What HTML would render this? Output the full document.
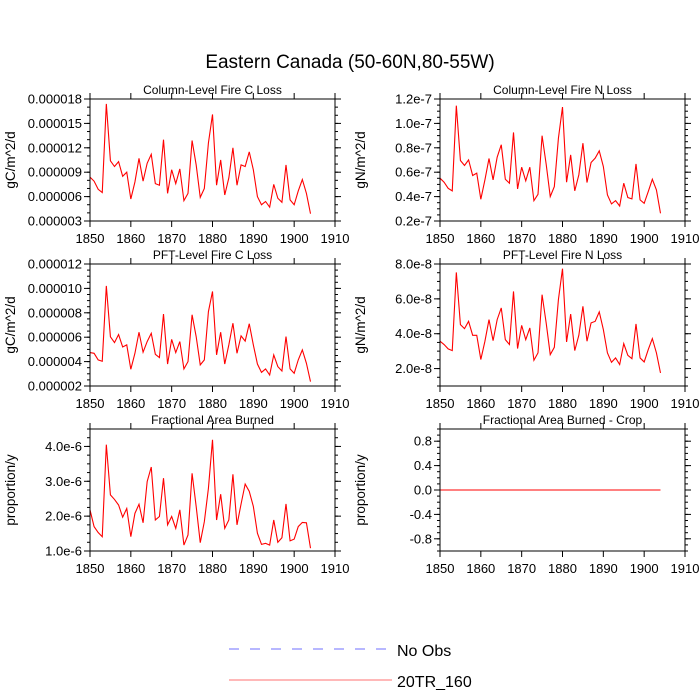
<!DOCTYPE html>
<html><head><meta charset="utf-8"><style>
body{margin:0;background:#fff;}
svg{display:block;font-family:"Liberation Sans",sans-serif;}
</style></head><body>
<svg id="chart" width="700" height="700" viewBox="0 0 700 700">
<text x="350" y="68" text-anchor="middle" font-size="19">Eastern Canada (50-60N,80-55W)</text>
<g>
<line x1="229" y1="649" x2="386" y2="649" stroke="#6f6fff" stroke-width="1" stroke-dasharray="10,11"/>
<text x="397" y="656" font-size="16">No Obs</text>
<line x1="229" y1="680" x2="392" y2="680" stroke="#ff7070" stroke-width="1"/>
<text x="397" y="687" font-size="16">20TR_160</text>
</g>
</svg>
<script>
const years = [];
for (let y = 1850; y <= 1904; y++) years.push(y);
const xTicks = [1850,1860,1870,1880,1890,1900,1910];
const colC = [8.4,7.9,6.9,6.5,17.4,10.4,9.7,10.3,8.5,9.0,5.7,7.8,10.7,7.9,10.1,11.2,7.6,7.4,13.0,6.4,9.3,7.6,9.4,5.5,6.4,12.9,9.9,5.9,7.0,12.6,16.1,7.4,10.5,6.2,8.3,12.0,7.4,9.9,9.7,11.5,9.3,6.0,5.0,5.4,4.7,7.5,5.8,5.3,9.9,5.6,5.0,6.7,8.1,6.4,3.9];
const colN = [5.51,5.18,4.68,4.47,11.45,6.96,6.55,7.01,5.73,5.92,3.78,5.37,7.12,5.37,7.23,8.25,5.42,5.1,9.26,4.63,6.41,5.29,6.41,3.67,4.19,8.99,6.66,4.0,4.82,8.79,11.34,5.18,7.42,4.47,5.78,8.38,5.15,6.79,7.15,7.75,6.47,4.14,3.4,3.67,3.23,5.1,3.92,3.81,6.68,3.73,3.45,4.41,5.42,4.55,2.63];
const pftC = [4.74,4.68,4.14,4.03,10.2,6.03,5.56,6.22,5.2,5.37,3.37,4.68,6.41,4.77,5.64,6.32,4.6,4.33,7.9,3.8,5.82,4.74,5.64,3.4,4.0,7.84,6.05,3.73,4.14,8.1,9.75,4.55,6.41,3.8,5.37,7.15,4.68,6.11,5.68,7.1,5.37,3.8,3.12,3.4,2.9,4.55,3.59,3.23,6.05,3.4,3.04,4.14,4.96,3.86,2.36];
const pftN = [3.57,3.38,3.13,3.03,7.52,4.52,4.29,4.71,3.91,3.91,2.52,3.57,4.81,3.6,4.81,5.48,3.66,3.38,6.43,3.15,4.48,3.66,4.33,2.48,2.9,6.24,4.62,2.8,3.22,5.96,7.73,3.53,5.13,3.03,3.91,5.57,3.57,4.62,4.71,5.25,4.24,2.9,2.36,2.61,2.23,3.43,2.76,2.57,4.56,2.61,2.38,3.09,3.72,2.9,1.75];
const fab = [2.18,1.70,1.53,1.41,4.05,2.61,2.48,2.32,1.97,2.22,1.41,2.08,2.34,1.81,2.99,3.41,1.89,1.99,3.09,1.75,1.99,1.65,2.18,1.17,1.46,3.23,2.28,1.24,1.84,2.80,4.19,1.89,2.63,1.65,1.89,3.20,1.75,2.35,2.92,2.71,2.28,1.51,1.19,1.22,1.17,1.89,1.25,1.38,2.35,1.29,1.34,1.70,1.82,1.81,1.08];
const fabCrop = years.map(() => 0);
const ticksColC = ["0.000003","0.000006","0.000009","0.000012","0.000015","0.000018"];
const ticksColN = ["0.2e-7","0.4e-7","0.6e-7","0.8e-7","1.0e-7","1.2e-7"];
const ticksPftC = ["0.000002","0.000004","0.000006","0.000008","0.000010","0.000012"];
const ticksPftN = ["2.0e-8","4.0e-8","6.0e-8","8.0e-8"];
const ticksFab = ["1.0e-6","2.0e-6","3.0e-6","4.0e-6"];
const ticksCrop = ["-0.8","-0.4","0.0","0.4","0.8"];

const NS = "http://www.w3.org/2000/svg";
const svg = document.getElementById('chart');
function mk(tag, attrs, parent){const e=document.createElementNS(NS,tag);for(const k in attrs)e.setAttribute(k,attrs[k]);parent.appendChild(e);return e;}

const panels = [
 {name:'column-c-loss',title:'Column-Level Fire C Loss',unit:'gC/m^2/d',x0:90,y0:99,data:colC,ymin:3,ymax:18,tv:[3,6,9,12,15,18],tl:ticksColC,minor:1},
 {name:'column-n-loss',title:'Column-Level Fire N Loss',unit:'gN/m^2/d',x0:440,y0:99,data:colN,ymin:2,ymax:12,tv:[2,4,6,8,10,12],tl:ticksColN,minor:0.5},
 {name:'pft-c-loss',title:'PFT-Level Fire C Loss',unit:'gC/m^2/d',x0:90,y0:264,data:pftC,ymin:2,ymax:12,tv:[2,4,6,8,10,12],tl:ticksPftC,minor:0.5},
 {name:'pft-n-loss',title:'PFT-Level Fire N Loss',unit:'gN/m^2/d',x0:440,y0:264,data:pftN,ymin:1,ymax:8,tv:[2,4,6,8],tl:ticksPftN,minor:0.5},
 {name:'fractional-area-burned',title:'Fractional Area Burned',unit:'proportion/y',x0:90,y0:429,data:fab,ymin:1,ymax:4.5,tv:[1,2,3,4],tl:ticksFab,minor:0.25},
 {name:'fractional-area-burned-crop',title:'Fractional Area Burned - Crop',unit:'proportion/y',x0:440,y0:429,data:fabCrop,ymin:-1,ymax:1,tv:[-0.8,-0.4,0,0.4,0.8],tl:ticksCrop,minor:0.1},
];
const W=245,H=122;
panels.forEach(p=>{
 const g=mk('g',{},svg);
 
 
 const xs=v=>p.x0+(v-1850)/60*W;
 const ys=v=>p.y0+H-(v-p.ymin)/(p.ymax-p.ymin)*H;
 const t=mk('text',{x:p.x0+W/2,y:p.y0-5,'text-anchor':'middle','font-size':'12'},g);
 t.textContent=p.title;
 
 
 const yl=mk('text',{x:0,y:0,'text-anchor':'middle','font-size':'13.5',transform:`translate(${p.x0-75},${p.y0+H/2}) rotate(-90)`},g);
 yl.textContent=p.unit;
 
 
 xTicks.forEach(v=>{
  const x=xs(v);
  mk('line',{x1:x,y1:p.y0+H,x2:x,y2:p.y0+H+6,stroke:'#000'},g);
  mk('line',{x1:x,y1:p.y0,x2:x,y2:p.y0-6,stroke:'#000'},g);
  const tx=mk('text',{x:x,y:p.y0+H+22,'text-anchor':'middle','font-size':'13'},g);
  tx.textContent=v;
  
  
 });
 for(let v=p.ymin;v<=p.ymax+1e-9;v+=p.minor){
  const y=ys(v);
  mk('line',{x1:p.x0,y1:y,x2:p.x0-3,y2:y,stroke:'#000'},g);
  mk('line',{x1:p.x0+W,y1:y,x2:p.x0+W+3,y2:y,stroke:'#000'},g);
 }
 p.tv.forEach((v,i)=>{
  const y=ys(v);
  mk('line',{x1:p.x0,y1:y,x2:p.x0-6,y2:y,stroke:'#000'},g);
  mk('line',{x1:p.x0+W,y1:y,x2:p.x0+W+6,y2:y,stroke:'#000'},g);
  const ty=mk('text',{x:p.x0-8,y:y+4.5,'text-anchor':'end','font-size':'13'},g);
  ty.textContent=p.tl[i];
  
  
 });
 const pts=p.data.map((v,i)=>xs(years[i]).toFixed(2)+','+ys(v).toFixed(2)).join(' ');
 const line=mk('polyline',{points:pts,fill:'none',stroke:'#ff0000','stroke-width':'1.1'},g);
 
 
 const fr=mk('rect',{x:p.x0,y:p.y0,width:W,height:H,fill:'none',stroke:'#000','stroke-width':'1'},g);
 
 
});
</script>
</body></html>
